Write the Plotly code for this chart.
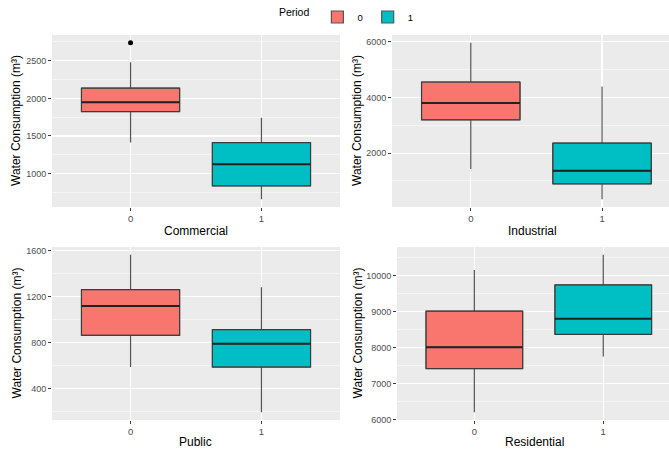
import plotly.graph_objects as go

# ---------------- data ----------------
sectors = ["Commercial", "Industrial", "Public", "Residential"]
periods = ["0", "1"]

q1_p0 = [1824, 3196, 864, 7419]
median_p0 = [1947, 3798, 1119, 8017]
q3_p0 = [2137, 4555, 1261, 9020]
lower_p0 = [1412, 1424, 588, 6208]
upper_p0 = [2479, 5964, 1563, 10167]

q1_p1 = [836, 894, 588, 8371]
median_p1 = [1123, 1362, 791, 8808]
q3_p1 = [1412, 2360, 913, 9749]
lower_p1 = [659, 342, 196, 7757]
upper_p1 = [1743, 4396, 1281, 10585]

outlier_sector = ["Commercial"]
outlier_period = [0]
outlier_value = [2739]

major_dtick = [500, 2000, 400, 1000]

# ---------------- styling ----------------
W, H = 669, 451
fills = ["#F8766D", "#00BFC4"]
edge = "#3a3a3a"
whisker = "#555555"
panel_bg = "#EBEBEB"
font_family = "Liberation Sans, Arial, sans-serif"

# panel pixel boxes: (x0, x1, y0_top, y1_bottom); right panels are cropped at the image edge
panels_px = [
    (52, 340, 35, 207),
    (392, 669, 35, 207),
    (52, 340, 247, 420),
    (397, 669, 247, 420),
]
x_range_right = [1.6, 1.51, 1.6, 1.51]
xtitle_y_px = [231, 231, 442, 442]
ytitle_x_px = [16, 357, 16, 357]

fig = go.Figure()

stats = [
    (q1_p0, median_p0, q3_p0, lower_p0, upper_p0),
    (q1_p1, median_p1, q3_p1, lower_p1, upper_p1),
]

for i, sec in enumerate(sectors):
    xa = "x" if i == 0 else f"x{i+1}"
    ya = "y" if i == 0 else f"y{i+1}"
    for p, per in enumerate(periods):
        q1, med, q3, lo, hi = stats[p]
        fig.add_trace(go.Box(
            x=[p], q1=[q1[i]], median=[med[i]], q3=[q3[i]],
            lowerfence=[lo[i]], upperfence=[hi[i]],
            width=0.75, whiskerwidth=0,
            fillcolor=fills[p], line=dict(color=whisker, width=1.2),
            name=per, legendgroup=per, showlegend=(i == 0),
            boxpoints=False, hoverinfo="skip",
            xaxis=xa, yaxis=ya,
        ))
        # darker box outline drawn over the box
        fig.add_trace(go.Scatter(
            x=[p - 0.375, p + 0.375, p + 0.375, p - 0.375, p - 0.375],
            y=[q1[i], q1[i], q3[i], q3[i], q1[i]],
            mode="lines", line=dict(color=edge, width=1),
            showlegend=False, hoverinfo="skip", xaxis=xa, yaxis=ya,
        ))
        # thicker median line like ggplot (fatten = 2)
        fig.add_trace(go.Scatter(
            x=[p - 0.375, p + 0.375], y=[med[i], med[i]],
            mode="lines", line=dict(color="#222222", width=2),
            showlegend=False, hoverinfo="skip", xaxis=xa, yaxis=ya,
        ))
    for s, pp, v in zip(outlier_sector, outlier_period, outlier_value):
        if s == sec:
            fig.add_trace(go.Scatter(
                x=[pp], y=[v], mode="markers",
                marker=dict(color="black", size=5),
                showlegend=False, hoverinfo="skip", xaxis=xa, yaxis=ya,
            ))

layout = {}
annotations = []
for i, sec in enumerate(sectors):
    x0, x1, yt, yb = panels_px[i]
    xkey = "xaxis" if i == 0 else f"xaxis{i+1}"
    ykey = "yaxis" if i == 0 else f"yaxis{i+1}"
    ya = "y" if i == 0 else f"y{i+1}"
    xa = "x" if i == 0 else f"x{i+1}"
    vals = [lower_p0[i], lower_p1[i], upper_p0[i], upper_p1[i]]
    vals += [v for s, v in zip(outlier_sector, outlier_value) if s == sec]
    vmin, vmax = min(vals), max(vals)
    pad = 0.05 * (vmax - vmin)
    layout[xkey] = dict(
        domain=[x0 / W, x1 / W], anchor=ya, range=[-0.6, x_range_right[i]],
        tickmode="array", tickvals=[0, 1], ticktext=periods,
        showgrid=True, gridcolor="white", gridwidth=1.1, zeroline=False,
        ticks="outside", ticklen=3, tickcolor=edge, automargin=False,
        tickfont=dict(size=9.5, color="#4D4D4D", family=font_family),
        showline=False,
    )
    dt = major_dtick[i]
    layout[ykey] = dict(
        domain=[1 - yb / H, 1 - yt / H], anchor=xa, range=[vmin - pad, vmax + pad],
        dtick=dt, tick0=0, tickformat="d",
        showgrid=True, gridcolor="white", gridwidth=1.1,
        minor=dict(dtick=dt / 2, tick0=0, showgrid=True, gridcolor="white", gridwidth=0.5),
        zeroline=False, ticks="outside", ticklen=3, tickcolor=edge, automargin=False,
        tickfont=dict(size=9, color="#4D4D4D", family=font_family),
        showline=False,
    )
    unit = (x1 - x0) / (0.6 + x_range_right[i])
    annotations.append(dict(
        text=sec, xref="paper", yref="paper",
        x=(x0 + 1.1 * unit) / W - 0.006 * (i % 2),
        y=1 - xtitle_y_px[i] / H,
        xanchor="center", yanchor="middle", showarrow=False,
        font=dict(size=12, color="black", family=font_family),
    ))
    annotations.append(dict(
        text="Water Consumption (m³)", xref="paper", yref="paper",
        x=ytitle_x_px[i] / W, y=1 - (yt + yb) / 2 / H, textangle=-90,
        xanchor="center", yanchor="middle", showarrow=False,
        font=dict(size=12, color="black", family=font_family),
    ))

fig.update_layout(
    width=W, height=H, autosize=False,
    margin=dict(l=0, r=0, t=0, b=0),
    paper_bgcolor="white", plot_bgcolor=panel_bg,
    font=dict(family=font_family),
    showlegend=True,
    legend=dict(
        orientation="h", x=0.52, xanchor="center", y=1 - 17 / H, yanchor="middle",
        title=dict(text="Period", font=dict(size=10.5, color="black")),
        font=dict(size=9.5, color="black"), itemwidth=30, tracegroupgap=0,
        bgcolor="rgba(0,0,0,0)",
    ),
    annotations=annotations,
    **layout,
)

fig.write_html(
    "out.html",
    config={"displayModeBar": False, "staticPlot": True},
    post_script="document.body.style.margin='0';document.body.style.overflow='hidden';",
)
